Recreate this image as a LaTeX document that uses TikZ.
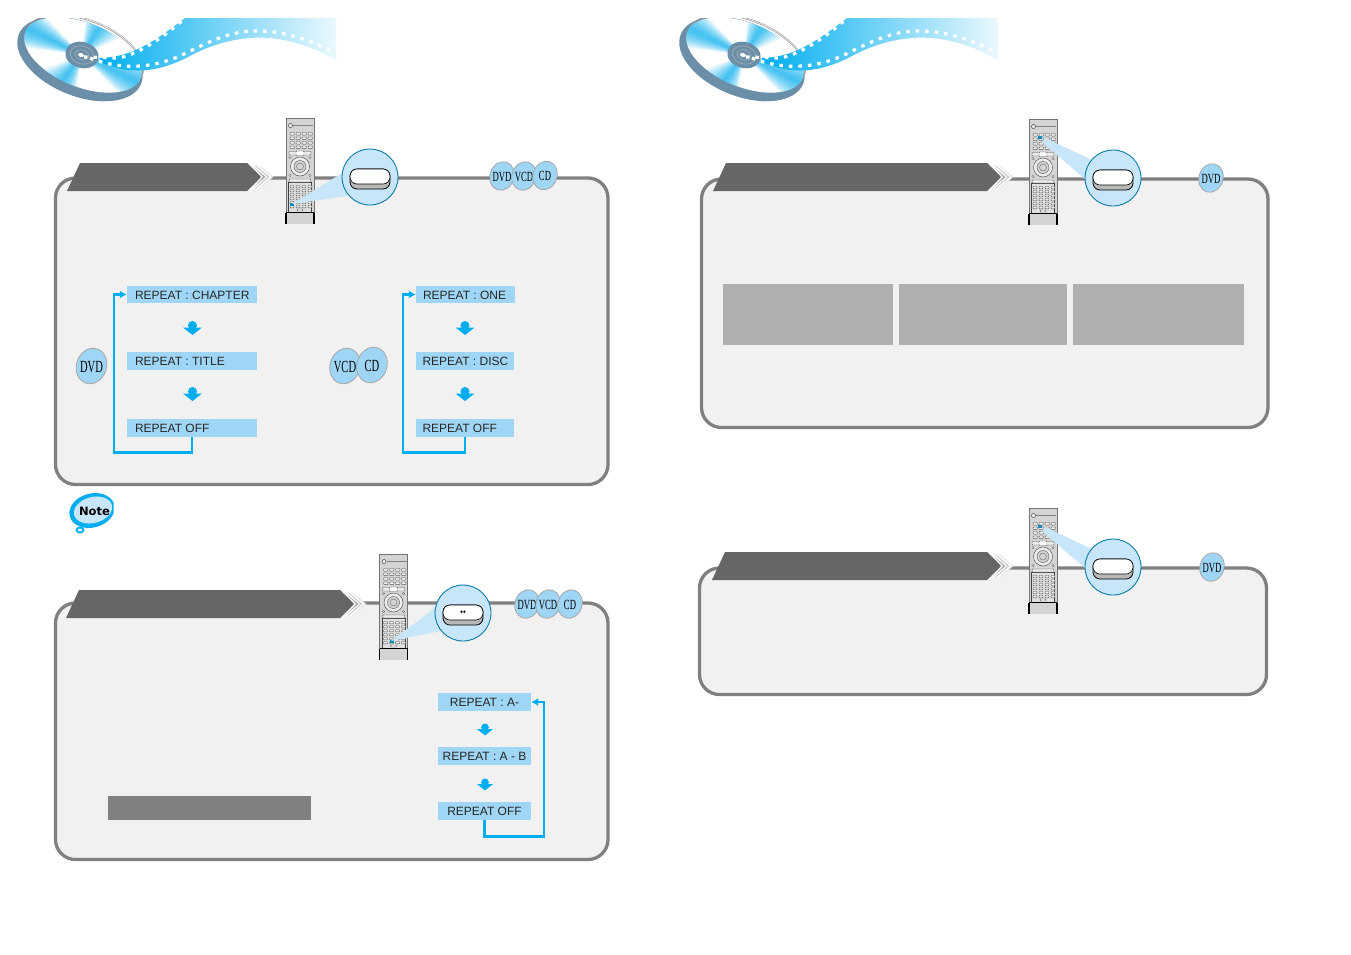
\documentclass[tikz,border=0pt]{standalone}
\usepackage{fontspec}
\setmainfont{Liberation Sans}
\newfontfamily\badgefont{Liberation Serif}
\newfontfamily\symfont{DejaVu Sans}
\usetikzlibrary{arrows.meta,shapes.geometric,calc}
\definecolor{cyanline}{HTML}{00AEEF}
\definecolor{boxblue}{HTML}{A0D6F5}
\definecolor{bubblefill}{HTML}{C8E6FA}
\definecolor{bubbleedge}{HTML}{0A7BA8}
\definecolor{panelfill}{HTML}{F1F1F1}
\definecolor{panelline}{HTML}{808080}
\definecolor{bannerc}{HTML}{666666}
\definecolor{discrim}{HTML}{6B8FA8}
\definecolor{remotebody}{HTML}{D4D4D4}
\newcommand{\lowstrut}{\rule[-1.4pt]{0pt}{12.4pt}}
\tikzset{
  panelbox/.style={draw=panelline,line width=3.3pt,fill=panelfill,rounded corners=20pt},
  statebox/.style={fill=boxblue,inner sep=0pt,font=\fontsize{12}{14}\selectfont,text=black!85},
  flowline/.style={draw=cyanline,line width=2.3pt},
  rbtn/.style={draw=black!65,line width=.45pt,fill=white!85!gray,rounded corners=.7pt},
  chev/.style={line width=1.8pt,fill=none},
}
% header graphic: disc and film ribbon
\newcommand{\myHeader}[1]{%
\begin{scope}[shift={(#1,0)}]
  \begin{scope}
    \clip (0,18) rectangle (340,120);
    \fill[discrim] (80,59) ellipse [x radius=66,y radius=37,rotate=-22];
    \draw[black!30,line width=.7pt] (85,52) ellipse [x radius=62,y radius=32,rotate=-22];
    \draw[black!45,line width=.5pt] (84,53) ellipse [x radius=62,y radius=32,rotate=-22];
    \fill[white] (83,55) ellipse [x radius=62,y radius=32,rotate=-22];
    \begin{scope}
      \clip (83,55) ellipse [x radius=62,y radius=32,rotate=-22];
      \foreach \ang/\wid in {206/2,-57/3,26/2,127/3}{
        \foreach \d in {1,2,...,9}{
          \fill[cyanline,opacity=.13] (82,55) -- ++(\ang-\d*\wid:110) -- ++(\ang+90:{2*110*tan(\d*\wid)}) -- cycle;
        }
      }
    \end{scope}
    \fill[discrim] (82,55) ellipse [x radius=17,y radius=13,rotate=-15];
    \draw[black!30,line width=.5pt] (82,55) ellipse [x radius=12,y radius=9,rotate=-15];
    \draw[black!30,line width=.5pt] (82,55) ellipse [x radius=7,y radius=5,rotate=-15];
    \fill[white] (81,55) ellipse [x radius=3,y radius=2,rotate=-15];
  \end{scope}
  \shade[left color=cyanline,right color=cyanline!8,shading angle=90]
    (100,58) .. controls (130,57) and (150,45) .. (185,18) -- (336,18) -- (336,60)
    .. controls (305,42) and (275,36) .. (250,38)
    .. controls (225,40) and (205,48) .. (190,56)
    .. controls (160,72) and (130,76) .. (100,62) -- cycle;
  \draw[white,line width=3.2pt,dash pattern=on 3.5pt off 6pt]
    (84,57) -- (117,58) .. controls (135,56) and (160,40) .. (183,20);
  \draw[white,line width=3.2pt,dash pattern=on 3.5pt off 6pt]
    (90,58) .. controls (120,70) and (150,68) .. (175,58)
    .. controls (195,50) and (225,30) .. (257,31)
    .. controls (285,31) and (310,40) .. (331,51);
\end{scope}}
% remote control: x, y, highlight dx, dy, bottom side width
\newcommand{\myRemote}[5]{%
\begin{scope}[shift={(#1,#2)}]
  \fill[remotebody] (0,0) rectangle (28,105);
  \draw[black!55,line width=.5pt] (0,105) -- (0,0) -- (28,0) -- (28,105);
  \draw[black!50,line width=.5pt] (7,7) -- (27,7);
  \draw[black!70,fill=white,line width=.6pt] (4.5,7) circle [radius=2];
  \foreach \yy in {14,18.5,23,27.5}{\foreach \xx in {4,10,16,22}{
    \draw[rbtn] (\xx,\yy) rectangle ++(4.5,2.6);}}
  \draw[rbtn] (3,33) rectangle (25,36.5);
  \draw[rbtn,fill=white] (10,32.5) rectangle (18,37);
  \draw[black!65,fill=white!85!gray,line width=.5pt] (14,48) circle [radius=9.5];
  \draw[black!60,fill=remotebody,line width=.5pt] (14,48) circle [radius=6];
  \draw[black!60,line width=.4pt] (14,48) circle [radius=3.5];
  \foreach \xx/\yy in {4/39,24/39,4/57,24/57}{
    \draw[black!60,fill=white,line width=.4pt] (\xx,\yy) circle [radius=1.2];}
  \draw[black!75,fill=black!12,line width=.5pt] (2.5,63.5) rectangle (25.5,94);
  \draw[rbtn] (3,60.5) rectangle (25,63.5);
  \foreach \yy in {67,71,75,79,83,87}{\foreach \xx in {4,10,16,22}{
    \draw[rbtn] (\xx,\yy) rectangle ++(4,2.4);}}
  \draw[rbtn] (11,90.5) rectangle ++(6,2);
  \fill[cyanline!80!black] (#3-2,#4-1.3) rectangle ++(4,2.6);
  \draw[black,line width=#5] (0,94) -- (28,94);
  \draw[black,line width=#5] (0,94) -- (0,105) (28,94) -- (28,105);
\end{scope}}
% magnified button
\newcommand{\myBubble}[4]{%
  \node[circle,draw=bubbleedge,fill=bubblefill,line width=.9pt,minimum size=56pt,inner sep=0pt] (#1) at (#2,#3) {};
  \draw[black,fill=black!28,line width=.8pt,rounded corners=7pt] (#2-20,#3-8) rectangle (#2+20,#3+12);
  \draw[black,fill=white,line width=.6pt,rounded corners=7pt] (#2-20,#3-8) rectangle (#2+20,#3+7);
  #4}
% disc badge
\newcommand{\myBadge}[7]{%
  \draw[black!35,line width=.8pt,fill=boxblue] (#2,#3) ellipse [x radius=#5,y radius=#6,rotate=-18];
  \node[inner sep=0pt,font=\badgefont\fontsize{#7}{#7}\selectfont,text=black] (#1) at (#2,#3+.7) {\scalebox{.62}[1]{#4}};}
% banner with chevrons: left x, top y, tip x
\newcommand{\myBanner}[3]{%
  \fill[bannerc] (#1,#2+28) -- (#1+13,#2) -- (#3-15,#2) -- (#3,#2+14) -- (#3-15,#2+28) -- cycle;
  \draw[chev,draw=black!10] (#3-3,#2+3) -- (#3+10,#2+14) -- (#3-3,#2+25);
  \draw[white,line width=1.6pt] (#3-5,#2+2) -- (#3+8,#2+14) -- (#3-5,#2+26);
  \draw[chev,draw=black!20] (#3-7,#2+3) -- (#3+6,#2+14) -- (#3-7,#2+25);
  \draw[white,line width=1.4pt] (#3-9,#2+2) -- (#3+4,#2+14) -- (#3-9,#2+26);
  \draw[chev,draw=black!32] (#3-11,#2+3) -- (#3+2,#2+14) -- (#3-11,#2+25);
  \draw[white,line width=1.2pt] (#3-13,#2) -- (#3,#2+14) -- (#3-13,#2+28);}
% down marker
\newcommand{\myDown}[3]{%
  \begin{scope}[shift={(#1,#2)},scale=#3]
    \fill[cyanline] (0,4.5) circle [radius=4.5];
    \fill[cyanline] (-9.5,6.5) -- (9.5,6.5) -- (0,14) -- cycle;
  \end{scope}}
\begin{document}
\begin{tikzpicture}[x=1pt,y=-1pt]
\useasboundingbox (0,0) rectangle (1351,954);
\fill[white] (0,0) rectangle (1351,954);

\myHeader{0}
\myHeader{662}

% panels
\draw[panelbox] (55.5,178) rectangle (608,484.5);
\draw[panelbox] (55.5,603) rectangle (608,859.5);
\draw[panelbox] (701.5,179) rectangle (1268,427.5);
\draw[panelbox] (699.5,568) rectangle (1266.5,694.5);

% banners
\myBanner{67}{163}{262}
\myBanner{66}{590}{355}
\myBanner{713}{163}{1002}
\myBanner{712}{552}{1002}

% remotes
\myRemote{286}{118.5}{6}{86}{1.4pt}
\myRemote{379.5}{554.5}{12}{87}{.6pt}
\myRemote{1029}{119.5}{11}{18}{1.4pt}
\myRemote{1029}{508.5}{11}{18}{1.4pt}

% beams
\fill[bubblefill] (292,204) -- (344,172) -- (347,196) -- cycle;
\fill[bubblefill] (391,641) -- (438,606) -- (441,631) -- cycle;
\fill[bubblefill] (1045,138) -- (1092,160) -- (1086,180) -- (1042,142) -- cycle;
\fill[bubblefill] (1045,527) -- (1092,549) -- (1086,569) -- (1042,531) -- cycle;

% magnified buttons
\myBubble{bubA}{370}{177}{}
\myBubble{bubB}{463}{613}{\node[inner sep=0pt,font=\symfont\fontsize{7}{7}\selectfont\bfseries] (bubBsym) at (463,613) {↔};}
\myBubble{bubC}{1113}{178}{}
\myBubble{bubD}{1113}{567}{}

% badges on panel edges
\myBadge{bA}{502}{176}{DVD}{12}{14.5}{14}
\myBadge{bB}{524}{176}{VCD}{12}{14.5}{14}
\myBadge{bC}{545}{175.5}{CD}{12}{14.5}{14}
\myBadge{bD}{527}{604}{DVD}{12}{14.5}{14}
\myBadge{bE}{548}{604}{VCD}{12}{14.5}{14}
\myBadge{bF}{570}{604}{CD}{12}{14.5}{14}
\myBadge{bG}{1211}{178}{DVD}{12}{14.5}{14}
\myBadge{bH}{1212}{567}{DVD}{12}{14.5}{14}
% side badges
\myBadge{bI}{91.5}{366}{DVD}{15}{18}{17}
\myBadge{bJ}{345}{366}{VCD}{15}{18}{17}
\myBadge{bK}{372}{365}{CD}{15}{18}{17}

% flow 1
\node[statebox,minimum width=130pt,minimum height=17pt] (c1) at (192,294.5) {\lowstrut\makebox[114pt][l]{REPEAT : CHAPTER}};
\node[statebox,minimum width=130pt,minimum height=18pt] (c2) at (192,361) {\lowstrut\makebox[114pt][l]{REPEAT : TITLE}};
\node[statebox,minimum width=130pt,minimum height=18pt] (c3) at (192,428) {\lowstrut\makebox[114pt][l]{REPEAT OFF}};
\myDown{192.5}{321}{1}
\myDown{192.5}{387}{1}
\coordinate (c4) at (114,452.5);
\draw[flowline,-{Latex[length=7pt,width=8pt]}] (c3.south) |- (c4) |- (c1.west);

% flow 2
\node[statebox,minimum width=99pt,minimum height=17pt] (d1) at (465.5,294.5) {\lowstrut\makebox[85pt][l]{REPEAT : ONE}};
\node[statebox,minimum width=98pt,minimum height=18pt] (d2) at (465,361) {\lowstrut\makebox[85pt][l]{REPEAT : DISC}};
\node[statebox,minimum width=98pt,minimum height=18pt] (d3) at (465,428) {\lowstrut\makebox[85pt][l]{REPEAT OFF}};
\myDown{465}{321}{1}
\myDown{465}{387}{1}
\coordinate (d4) at (403,452.5);
\draw[flowline,-{Latex[length=7pt,width=8pt]}] (d3.south) |- (d4) |- (d1.west);

% flow 3
\node[statebox,minimum width=93pt,minimum height=18pt] (e1) at (484.5,702) {\lowstrut REPEAT : A-};
\node[statebox,minimum width=93pt,minimum height=18pt] (e2) at (484.5,756) {\lowstrut REPEAT : A - B};
\node[statebox,minimum width=93pt,minimum height=18pt] (e3) at (484.5,811) {\lowstrut REPEAT OFF};
\myDown{485}{723.5}{.85}
\myDown{485}{778.5}{.85}
\coordinate (e4) at (544,836.5);
\draw[flowline,-{Latex[length=7pt,width=8pt]}] (e3.south) |- (e4) |- (e1.east);

% grey bars
\node[fill=panelline,minimum width=203pt,minimum height=24pt,inner sep=0pt] (barA) at (209.5,808) {};
\node[fill=black!31,minimum width=170pt,minimum height=61pt,inner sep=0pt] (barB) at (808,314.5) {};
\node[fill=black!31,minimum width=168pt,minimum height=61pt,inner sep=0pt] (barC) at (983,314.5) {};
\node[fill=black!31,minimum width=171pt,minimum height=61pt,inner sep=0pt] (barD) at (1158.5,314.5) {};

% note icon
\begin{scope}
  \clip (60,485) rectangle (113.5,540);
  \draw[cyanline,line width=1.8pt,fill=white] (80,530) circle [x radius=3.5,y radius=2.5];
  \fill[cyanline] (92,510.5) ellipse [x radius=23,y radius=17,rotate=15];
  \fill[bubblefill] (93,510) ellipse [x radius=19.5,y radius=13,rotate=15];
\end{scope}
\node[inner sep=0pt,font=\symfont\fontsize{11.5}{14}\selectfont\bfseries,text=black] (noteT) at (94.5,511.5) {Note};
\end{tikzpicture}
\end{document}
